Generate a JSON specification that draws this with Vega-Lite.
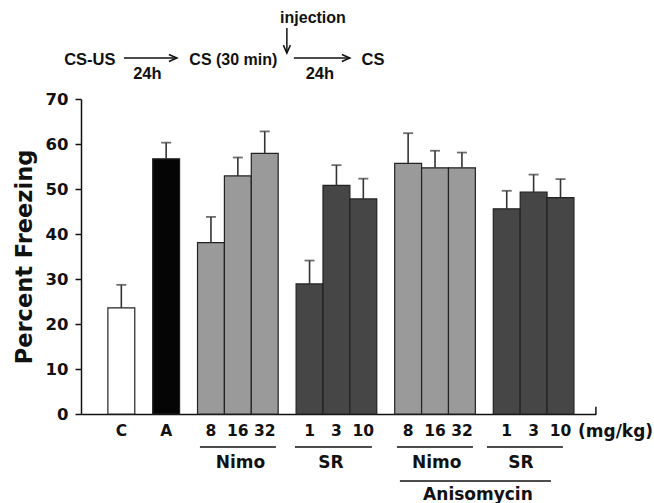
{
  "$schema": "https://vega.github.io/schema/vega-lite/v6.json",
  "width": 515,
  "height": 315,
  "autosize": {"type": "none"},
  "padding": {"left": 81, "top": 99, "right": 58, "bottom": 89},
  "background": "white",
  "config": {
    "view": {"stroke": null},
    "font": "Liberation Sans",
    "text": {"font": "DejaVu Sans", "fontWeight": "bold", "fontSize": 17, "baseline": "middle", "align": "center", "color": "#111"}
  },
  "data": {"values": [
    {"cond": "C", "kind": "Control", "pct": 23.6, "upper": 28.7},
    {"cond": "A", "kind": "Anisomycin", "pct": 56.7, "upper": 60.3},
    {"cond": "N8", "kind": "Nimo", "pct": 38.1, "upper": 43.8},
    {"cond": "N16", "kind": "Nimo", "pct": 52.9, "upper": 57.0},
    {"cond": "N32", "kind": "Nimo", "pct": 57.9, "upper": 62.8},
    {"cond": "S1", "kind": "SR", "pct": 28.9, "upper": 34.1},
    {"cond": "S3", "kind": "SR", "pct": 50.8, "upper": 55.3},
    {"cond": "S10", "kind": "SR", "pct": 47.8, "upper": 52.3},
    {"cond": "AN8", "kind": "Nimo", "pct": 55.7, "upper": 62.4},
    {"cond": "AN16", "kind": "Nimo", "pct": 54.7, "upper": 58.5},
    {"cond": "AN32", "kind": "Nimo", "pct": 54.7, "upper": 58.1},
    {"cond": "AS1", "kind": "SR", "pct": 45.6, "upper": 49.6},
    {"cond": "AS3", "kind": "SR", "pct": 49.3, "upper": 53.2},
    {"cond": "AS10", "kind": "SR", "pct": 48.1, "upper": 52.2}
  ]},
  "encoding": {
    "x": {
      "field": "cond", "type": "nominal",
      "scale": {
        "type": "band", "paddingInner": 0, "paddingOuter": 0.23, "align": 0,
        "domain": ["p1","p2","p3","cl","C","cr","g1a","g1b","al","A","ar","g2a","g2b","n8l","N8","n8r","n16l","N16","n16r","n32l","N32","n32r","g3a","g3b","s1l","S1","s1r","s3l","S3","s3r","s10l","S10","s10r","g4a","g4b","an8l","AN8","an8r","an16l","AN16","an16r","an32l","AN32","an32r","g5a","g5b","as1l","AS1","as1r","as3l","AS3","as3r","as10l","AS10","as10r","q1","q2"]
      },
      "axis": {
        "title": null,
        "values": ["C","A","N8","N16","N32","S1","S3","S10","AN8","AN16","AN32","AS1","AS3","AS10"],
        "labelExpr": "datum.value == 'C' || datum.value == 'A' ? datum.value : replace(datum.value, regexp('^[A-Z]+'), '')",
        "ticks": false, "tickSize": 0,
        "labelAngle": 0,
        "labelFont": "DejaVu Sans", "labelFontWeight": "bold", "labelFontSize": 15.5, "labelColor": "#111",
        "labelPadding": 9, "labelOverlap": false,
        "domainColor": "#111", "domainWidth": 1.5
      }
    }
  },
  "layer": [
    {
      "mark": {"type": "bar", "width": {"band": 3}, "stroke": "#222", "strokeWidth": 1.2},
      "encoding": {
        "y": {
          "field": "pct", "type": "quantitative",
          "scale": {"domain": [0, 70], "nice": false},
          "axis": {
            "values": [0, 10, 20, 30, 40, 50, 60, 70],
            "title": "Percent Freezing",
            "titleFont": "DejaVu Sans", "titleFontWeight": "bold", "titleFontSize": 22.5, "titleColor": "#111",
            "titlePadding": 9,
            "labelFont": "DejaVu Sans", "labelFontWeight": "bold", "labelFontSize": 16.5, "labelColor": "#111",
            "labelPadding": 7, "tickSize": 6, "tickColor": "#111", "tickWidth": 1.5,
            "domainColor": "#111", "domainWidth": 1.5, "grid": false
          }
        },
        "color": {
          "field": "kind", "type": "nominal", "legend": null,
          "scale": {"domain": ["Control", "Anisomycin", "Nimo", "SR"], "range": ["#ffffff", "#050505", "#9a9a9a", "#464646"]}
        }
      }
    },
    {
      "mark": {"type": "rule", "color": "#333", "strokeWidth": 1.6},
      "encoding": {"y": {"field": "pct", "type": "quantitative"}, "y2": {"field": "upper"}}
    },
    {
      "mark": {"type": "tick", "color": "#333", "thickness": 1.8, "size": 10, "orient": "horizontal"},
      "encoding": {"y": {"field": "upper", "type": "quantitative"}}
    },
    {
      "data": {"values": [{}]},
      "mark": {"type": "text", "text": "CS-US", "font": "Liberation Sans", "fontSize": 16.5},
      "encoding": {"x": {"datum": "p1", "bandPosition": 0.99}, "y": {"datum": 78.7}}
    },
    {
      "data": {"values": [{}]},
      "mark": {"type": "rule", "color": "#111", "strokeWidth": 1.5},
      "encoding": {"x": {"datum": "C", "bandPosition": 0.79}, "x2": {"datum": "ar", "bandPosition": 0.7}, "y": {"datum": 79.1}}
    },
    {
      "data": {"values": [{}]},
      "mark": {"type": "point", "shape": "M-1.6,-0.7L0,0L-1.6,0.7", "size": 100, "filled": false, "stroke": "#111", "strokeWidth": 1.5, "opacity": 1},
      "encoding": {"x": {"datum": "ar", "bandPosition": 0.7}, "y": {"datum": 79.1}}
    },
    {
      "data": {"values": [{}]},
      "mark": {"type": "text", "text": "24h", "font": "Liberation Sans", "fontSize": 16.5},
      "encoding": {"x": {"datum": "g1b", "bandPosition": 0.41}, "y": {"datum": 75.6}}
    },
    {
      "data": {"values": [{}]},
      "mark": {"type": "text", "text": "CS (30 min)", "font": "Liberation Sans", "fontSize": 16},
      "encoding": {"x": {"datum": "N16", "bandPosition": 0.0}, "y": {"datum": 78.7}}
    },
    {
      "data": {"values": [{}]},
      "mark": {"type": "text", "text": "injection", "font": "Liberation Sans", "fontSize": 16},
      "encoding": {"x": {"datum": "S1", "bandPosition": 0.88}, "y": {"datum": 87.9}}
    },
    {
      "data": {"values": [{}]},
      "mark": {"type": "rule", "color": "#111", "strokeWidth": 1.5},
      "encoding": {"x": {"datum": "g3a", "bandPosition": 0.97}, "y": {"datum": 85.8}, "y2": {"datum": 80.2}}
    },
    {
      "data": {"values": [{}]},
      "mark": {"type": "point", "shape": "M-0.7,-1.6L0,0L0.7,-1.6", "size": 100, "filled": false, "stroke": "#111", "strokeWidth": 1.5, "opacity": 1},
      "encoding": {"x": {"datum": "g3a", "bandPosition": 0.97}, "y": {"datum": 80.2}}
    },
    {
      "data": {"values": [{}]},
      "mark": {"type": "rule", "color": "#111", "strokeWidth": 1.5},
      "encoding": {"x": {"datum": "g3b", "bandPosition": 0.75}, "x2": {"datum": "s10l", "bandPosition": 0.0}, "y": {"datum": 79.1}}
    },
    {
      "data": {"values": [{}]},
      "mark": {"type": "point", "shape": "M-1.6,-0.7L0,0L-1.6,0.7", "size": 100, "filled": false, "stroke": "#111", "strokeWidth": 1.5, "opacity": 1},
      "encoding": {"x": {"datum": "s10l", "bandPosition": 0.0}, "y": {"datum": 79.1}}
    },
    {
      "data": {"values": [{}]},
      "mark": {"type": "text", "text": "24h", "font": "Liberation Sans", "fontSize": 16.5},
      "encoding": {"x": {"datum": "s1r", "bandPosition": 0.65}, "y": {"datum": 75.6}}
    },
    {
      "data": {"values": [{}]},
      "mark": {"type": "text", "text": "CS", "font": "Liberation Sans", "fontSize": 16.5},
      "encoding": {"x": {"datum": "s10r", "bandPosition": 0.57}, "y": {"datum": 78.7}}
    },
    {
      "data": {"values": [{}]},
      "mark": {"type": "rule", "color": "#111", "strokeWidth": 1.5},
      "encoding": {"x": {"datum": "q2", "bandPosition": 1.45}, "y": {"datum": 0}, "y2": {"datum": 1.6}}
    },
    {
      "data": {"values": [{}]},
      "mark": {"type": "text", "text": "(mg/kg)", "align": "left", "fontSize": 17},
      "encoding": {"x": {"datum": "q1", "bandPosition": 0.45}, "y": {"datum": -4.0}}
    },
    {
      "data": {"values": [{}]},
      "mark": {"type": "rule", "color": "#111", "strokeWidth": 1.5},
      "encoding": {"x": {"datum": "n8l", "bandPosition": 0.27}, "x2": {"datum": "n32r", "bandPosition": 0.75}, "y": {"datum": -7.33}}
    },
    {
      "data": {"values": [{}]},
      "mark": {"type": "text", "text": "Nimo"},
      "encoding": {"x": {"datum": "N16", "bandPosition": 0.79}, "y": {"datum": -10.9}}
    },
    {
      "data": {"values": [{}]},
      "mark": {"type": "rule", "color": "#111", "strokeWidth": 1.5},
      "encoding": {"x": {"datum": "g3b", "bandPosition": 0.87}, "x2": {"datum": "s10r", "bandPosition": 0.46}, "y": {"datum": -7.33}}
    },
    {
      "data": {"values": [{}]},
      "mark": {"type": "text", "text": "SR"},
      "encoding": {"x": {"datum": "s3l", "bandPosition": 0.88}, "y": {"datum": -10.9}}
    },
    {
      "data": {"values": [{}]},
      "mark": {"type": "rule", "color": "#111", "strokeWidth": 1.5},
      "encoding": {"x": {"datum": "an8l", "bandPosition": 0.25}, "x2": {"datum": "an32r", "bandPosition": 0.73}, "y": {"datum": -7.33}}
    },
    {
      "data": {"values": [{}]},
      "mark": {"type": "text", "text": "Nimo"},
      "encoding": {"x": {"datum": "AN16", "bandPosition": 0.68}, "y": {"datum": -10.9}}
    },
    {
      "data": {"values": [{}]},
      "mark": {"type": "rule", "color": "#111", "strokeWidth": 1.5},
      "encoding": {"x": {"datum": "g5b", "bandPosition": 0.29}, "x2": {"datum": "AS10", "bandPosition": 0.77}, "y": {"datum": -7.33}}
    },
    {
      "data": {"values": [{}]},
      "mark": {"type": "text", "text": "SR"},
      "encoding": {"x": {"datum": "as3l", "bandPosition": 0.08}, "y": {"datum": -10.9}}
    },
    {
      "data": {"values": [{}]},
      "mark": {"type": "rule", "color": "#111", "strokeWidth": 1.5},
      "encoding": {"x": {"datum": "an8l", "bandPosition": 0.58}, "x2": {"datum": "as10l", "bandPosition": 0.43}, "y": {"datum": -14.89}}
    },
    {
      "data": {"values": [{}]},
      "mark": {"type": "text", "text": "Anisomycin"},
      "encoding": {"x": {"datum": "g5a", "bandPosition": 0.29}, "y": {"datum": -18.0}}
    }
  ]
}
